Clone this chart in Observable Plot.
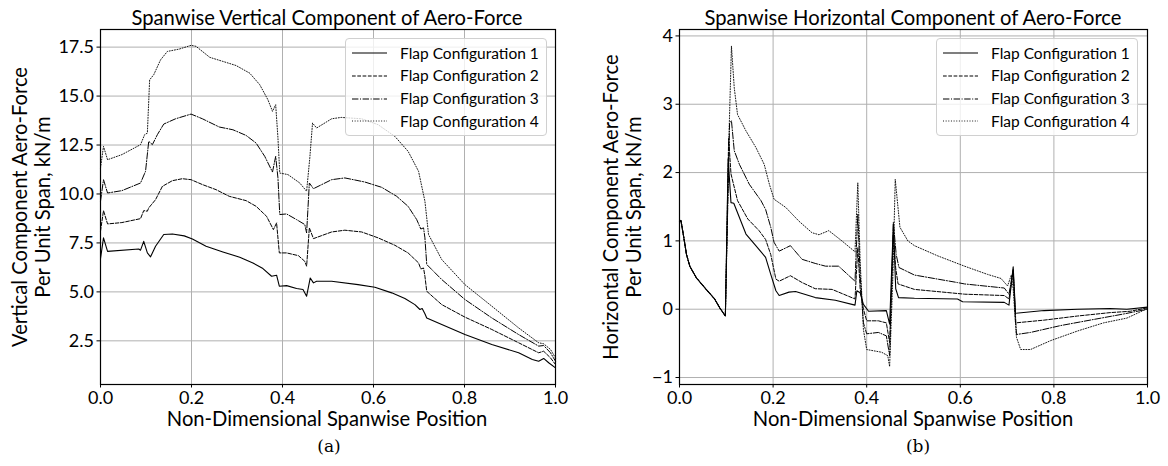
<!DOCTYPE html>
<html>
<head>
<meta charset="utf-8">
<script src="https://cdn.jsdelivr.net/npm/d3@7"></script>
<script src="https://cdn.jsdelivr.net/npm/@observablehq/plot@0.6"></script>
<style>
  body { margin: 0; background: #fff; }
  #wrap { position: relative; width: 1168px; height: 466px; overflow: hidden; font-family: Lato, "DejaVu Sans", sans-serif; color: #000; }
  .panel { position: absolute; top: 0; }
  .txt { position: absolute; white-space: nowrap; line-height: 1; }
  .title { font-size: 20.2px; top: 7px; transform: translateX(-50%); }
  .xlabel { font-size: 20.2px; top: 408px; transform: translateX(-50%); }
  .caption { font-family: "DejaVu Serif", "Liberation Serif", serif; font-size: 17px; top: 438px; transform: translateX(-50%); }
  .ylabel { font-size: 20.2px; line-height: 22.7px; text-align: center; transform: translate(-50%, -50%) rotate(-90deg); }
  .legend { position: absolute; border: 1px solid #d0d0d0; border-radius: 4px; background: rgba(255,255,255,0.8); padding: 3px 2px 3px 6px; box-sizing: border-box; white-space: nowrap; overflow: visible; }
  .legend .row { height: 22.7px; display: flex; align-items: center; font-size: 15.5px; white-space: nowrap; line-height: 1; }
  .legend svg { margin-right: 13px; flex: none; }
</style>
</head>
<body>
<div id="wrap"></div>
<script>
// ---------------- data ----------------
const xTicks = [0, 0.2, 0.4, 0.6, 0.8, 1.0];
const vertTicks = [2.5, 5.0, 7.5, 10.0, 12.5, 15.0, 17.5];
const horizTicks = [-1, 0, 1, 2, 3, 4];
const seriesNames = ["Flap Configuration 1", "Flap Configuration 2", "Flap Configuration 3", "Flap Configuration 4"];

const vert1 = [[0,6.7],[0.0066,7.76],[0.0155,7.07],[0.084,7.19],[0.088,7.13],[0.095,7.58],[0.103,6.99],[0.11,6.79],[0.121,7.33],[0.139,7.93],[0.158,7.96],[0.184,7.86],[0.202,7.70],[0.232,7.33],[0.269,7.04],[0.306,6.77],[0.335,6.48],[0.357,6.19],[0.376,5.80],[0.387,5.85],[0.393,5.29],[0.409,5.32],[0.431,5.17],[0.445,5.12],[0.453,4.78],[0.461,5.71],[0.468,5.46],[0.475,5.54],[0.508,5.54],[0.566,5.37],[0.603,5.24],[0.640,4.95],[0.669,4.66],[0.691,4.35],[0.702,4.10],[0.707,4.15],[0.713,3.88],[0.717,3.67],[0.75,3.33],[0.801,2.82],[0.860,2.31],[0.919,1.89],[0.949,1.55],[0.963,1.46],[0.974,1.60],[0.985,1.38],[1.0,1.12]];
const vert2 = [[0,8.1],[0.0066,9.15],[0.0155,8.47],[0.047,8.54],[0.088,8.74],[0.095,9.15],[0.103,9.12],[0.106,9.29],[0.121,9.71],[0.136,10.39],[0.158,10.68],[0.18,10.78],[0.199,10.73],[0.224,10.48],[0.254,10.22],[0.283,9.88],[0.32,9.66],[0.342,9.37],[0.365,8.86],[0.38,8.18],[0.387,8.52],[0.393,6.99],[0.409,6.99],[0.435,6.85],[0.449,6.56],[0.453,6.31],[0.459,8.27],[0.468,7.72],[0.508,8.06],[0.537,8.15],[0.574,8.06],[0.61,7.76],[0.647,7.38],[0.676,6.99],[0.699,6.48],[0.704,6.17],[0.71,6.22],[0.713,5.80],[0.717,5.03],[0.75,4.35],[0.801,3.71],[0.86,3.08],[0.919,2.40],[0.963,1.89],[0.974,1.97],[0.989,1.63],[1.0,1.29]];
const vert3 = [[0,9.63],[0.0066,10.73],[0.0155,10.05],[0.047,10.17],[0.088,10.56],[0.099,11.16],[0.106,12.69],[0.114,12.52],[0.125,13.03],[0.139,13.57],[0.165,13.84],[0.199,14.08],[0.224,13.84],[0.261,13.42],[0.291,13.28],[0.32,12.99],[0.342,12.60],[0.361,11.92],[0.378,11.12],[0.385,11.92],[0.39,10.82],[0.394,8.95],[0.409,8.98],[0.431,8.69],[0.449,8.44],[0.453,8.01],[0.459,10.56],[0.468,10.27],[0.508,10.73],[0.537,10.82],[0.581,10.61],[0.618,10.34],[0.651,9.88],[0.676,9.37],[0.695,8.69],[0.704,8.21],[0.71,8.27],[0.713,7.76],[0.717,6.40],[0.75,5.63],[0.801,4.61],[0.86,3.67],[0.919,2.82],[0.963,2.23],[0.974,2.26],[0.989,1.89],[1.0,1.46]];
const vert4 = [[0,11.33],[0.0066,12.43],[0.0155,11.75],[0.047,12.01],[0.088,12.52],[0.097,13.03],[0.103,13.11],[0.108,15.83],[0.117,16.09],[0.132,16.85],[0.147,17.28],[0.173,17.40],[0.199,17.59],[0.21,17.54],[0.24,16.98],[0.269,16.77],[0.298,16.56],[0.328,16.17],[0.35,15.58],[0.368,14.81],[0.378,14.22],[0.385,14.56],[0.39,12.86],[0.394,11.07],[0.412,10.99],[0.438,10.56],[0.453,10.14],[0.46,11.84],[0.466,13.62],[0.475,13.37],[0.508,13.84],[0.529,13.91],[0.574,13.84],[0.61,13.54],[0.647,12.94],[0.676,12.18],[0.699,11.16],[0.713,9.63],[0.721,7.93],[0.75,6.65],[0.801,5.37],[0.86,4.27],[0.919,3.16],[0.963,2.40],[0.974,2.35],[0.989,2.06],[1.0,1.63]];

const horizRoot = [[0,1.28],[0.003,1.30],[0.008,1.10],[0.015,0.80],[0.022,0.63],[0.036,0.46],[0.057,0.29],[0.075,0.15],[0.086,0.02],[0.098,-0.10]];
const horiz1 = [[0.104,2.2],[0.11,1.56],[0.116,1.55],[0.142,1.10],[0.163,0.93],[0.184,0.76],[0.195,0.51],[0.206,0.27],[0.213,0.20],[0.234,0.25],[0.248,0.26],[0.29,0.17],[0.333,0.13],[0.375,0.06],[0.379,0.27],[0.386,0.24],[0.393,0.07],[0.404,-0.03],[0.442,-0.02],[0.449,-0.22],[0.457,1.25],[0.462,0.30],[0.468,0.17],[0.502,0.16],[0.594,0.15],[0.605,0.11],[0.694,0.10],[0.704,0.06],[0.713,0.62],[0.718,-0.06],[0.779,-0.02],[0.85,0.0],[0.92,0.01],[0.956,0.0],[1.0,0.03]];
const horiz2 = [[0.105,2.5],[0.11,1.98],[0.124,1.59],[0.146,1.32],[0.17,1.15],[0.184,1.02],[0.195,0.80],[0.206,0.44],[0.213,0.41],[0.237,0.49],[0.262,0.39],[0.29,0.30],[0.326,0.29],[0.375,0.15],[0.381,0.9],[0.386,0.3],[0.393,0.0],[0.40,-0.17],[0.425,-0.17],[0.442,-0.20],[0.449,-0.49],[0.457,1.1],[0.462,0.6],[0.467,0.37],[0.502,0.29],[0.594,0.23],[0.609,0.22],[0.694,0.20],[0.704,0.15],[0.713,0.55],[0.718,-0.20],[0.779,-0.16],[0.85,-0.10],[0.92,-0.05],[0.963,-0.03],[1.0,0.02]];
const horiz3 = [[0.107,2.72],[0.111,2.76],[0.117,2.32],[0.128,2.12],[0.149,1.83],[0.174,1.59],[0.184,1.46],[0.195,1.20],[0.202,0.98],[0.213,0.85],[0.237,0.93],[0.262,0.73],[0.29,0.67],[0.312,0.63],[0.34,0.63],[0.375,0.41],[0.381,1.39],[0.386,0.5],[0.393,-0.2],[0.40,-0.36],[0.425,-0.34],[0.442,-0.39],[0.449,-0.68],[0.457,1.27],[0.463,0.8],[0.469,0.61],[0.502,0.50],[0.594,0.39],[0.609,0.37],[0.694,0.31],[0.704,0.22],[0.713,0.58],[0.72,-0.37],[0.75,-0.34],[0.814,-0.24],[0.885,-0.15],[0.949,-0.07],[1.0,0.0]];
const horiz4 = [[0.106,2.6],[0.111,3.85],[0.117,3.24],[0.124,2.85],[0.142,2.61],[0.163,2.37],[0.181,2.12],[0.192,1.83],[0.202,1.61],[0.227,1.49],[0.255,1.29],[0.283,1.12],[0.298,1.09],[0.319,1.15],[0.347,1.0],[0.375,0.84],[0.381,1.85],[0.386,0.71],[0.393,-0.3],[0.40,-0.59],[0.432,-0.63],[0.445,-0.68],[0.449,-0.84],[0.456,0.5],[0.461,1.90],[0.471,1.20],[0.488,1.0],[0.502,0.93],[0.552,0.78],[0.609,0.63],[0.658,0.51],[0.687,0.45],[0.701,0.34],[0.709,0.5],[0.713,0.3],[0.72,-0.41],[0.729,-0.59],[0.75,-0.59],[0.793,-0.46],[0.85,-0.32],[0.906,-0.20],[0.956,-0.13],[1.0,0.01]];

// ---------------- styles ----------------
const dashes = [null, "3.7,1.6", "6.4,1.6,1,1.6", "1,1.65"];
const lineWidths = [1.1, 1.0, 1.0, 0.9];

function makeChart(opts) {
  const marks = [
    Plot.gridX(xTicks, {stroke: "#b0b0b0", strokeOpacity: 1, strokeWidth: 1}),
    Plot.gridY(opts.yTicks, {stroke: "#b0b0b0", strokeOpacity: 1, strokeWidth: 1}),
  ];
  opts.series.forEach((s, i) => {
    marks.push(Plot.line(s, {x: d => d[0], y: d => d[1], stroke: "#000", strokeWidth: lineWidths[i],
      strokeDasharray: dashes[i] || undefined, curve: "linear"}));
  });
  marks.push(Plot.frame({stroke: "#000", strokeWidth: 1.2}));
  marks.push(Plot.axisX(xTicks, {tickFormat: d3.format(".1f"), tickSize: 3.5, tickPadding: 3, fontSize: 18, label: null}));
  marks.push(Plot.axisY(opts.yTicks, {tickFormat: opts.yFormat, tickSize: 3.5, tickPadding: 3, fontSize: 18, label: null}));
  return Plot.plot({
    width: opts.width, height: 466,
    marginLeft: opts.mL, marginRight: opts.mR, marginTop: 29, marginBottom: 82,
    x: {domain: [0, 1]},
    y: {domain: opts.yDomain},
    style: {fontFamily: "Lato, 'DejaVu Sans', sans-serif", color: "#000", background: "transparent", overflow: "visible"},
    marks
  });
}

const wrap = document.getElementById("wrap");
function addEl(cls, html, style) {
  const d = document.createElement("div");
  d.className = cls; d.innerHTML = html;
  Object.assign(d.style, style);
  wrap.appendChild(d); return d;
}
function addLegend(left, top, width, height) {
  const lg = addEl("legend", "", {left: left + "px", top: top + "px", width: width + "px", height: height + "px"});
  seriesNames.forEach((name, i) => {
    const row = document.createElement("div");
    row.className = "row";
    row.innerHTML = `<svg width="35" height="10"><line x1="0" x2="35" y1="5" y2="5" stroke="#000" stroke-width="${lineWidths[i]}" ${dashes[i] ? `stroke-dasharray="${dashes[i]}"` : ""}/></svg><span>${name}</span>`;
    lg.appendChild(row);
  });
}

// left panel
const c1 = makeChart({series: [vert1, vert2, vert3, vert4], yTicks: vertTicks, yFormat: d3.format(".1f"),
  yDomain: [0.27, 18.40], width: 584, mL: 100, mR: 29});
c1.classList.add("panel"); c1.style.left = "0px";
wrap.appendChild(c1);

// right panel
const fmtInt = d => (d < 0 ? "\u2212" + Math.abs(d) : String(d));
const c2 = makeChart({series: [horizRoot.concat(horiz1), horizRoot.concat(horiz2), horizRoot.concat(horiz3), horizRoot.concat(horiz4)],
  yTicks: horizTicks, yFormat: fmtInt, yDomain: [-1.102, 4.094], width: 584, mL: 95, mR: 21});
c2.classList.add("panel"); c2.style.left = "584px";
wrap.appendChild(c2);

// texts
addEl("txt title", "Spanwise Vertical Component of Aero-Force", {left: "327px"});
addEl("txt title", "Spanwise Horizontal Component of Aero-Force", {left: "913px"});
addEl("txt xlabel", "Non-Dimensional Spanwise Position", {left: "327px"});
addEl("txt xlabel", "Non-Dimensional Spanwise Position", {left: "913px"});
addEl("txt caption", "(a)", {left: "329px"});
addEl("txt caption", "(b)", {left: "918px"});
addEl("txt ylabel", "Vertical Component Aero-Force<br>Per Unit Span, kN/m", {left: "31px", top: "207px"});
addEl("txt ylabel", "Horizontal Component Aero-Force<br>Per Unit Span, kN/m", {left: "622px", top: "207px"});
addLegend(345, 38, 202, 98);
addLegend(936, 38, 202, 98);
</script>
</body>
</html>
